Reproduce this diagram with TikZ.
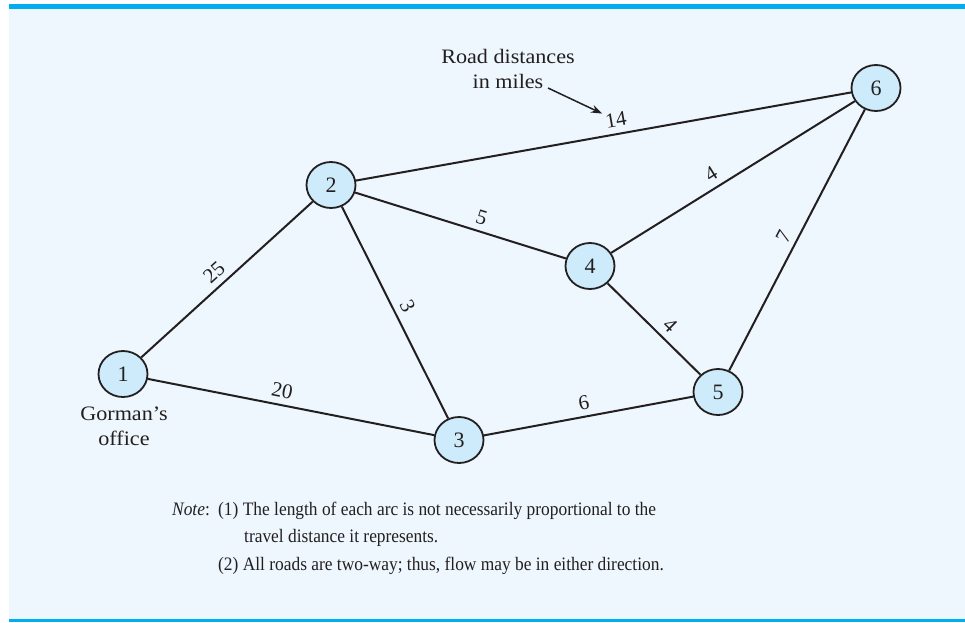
\documentclass[tikz,border=0pt]{standalone}
\usepackage{fontspec}
\setmainfont{Liberation Serif}
\newfontfamily\lblfont{Liberation Serif}[FakeStretch=1.08]
\newfontfamily\notefont{Liberation Serif}[FakeStretch=0.915]
\usetikzlibrary{arrows.meta,shapes.geometric}
\definecolor{bgblue}{HTML}{EDF7FD}
\definecolor{barblue}{HTML}{00AEEF}
\definecolor{nodeblue}{HTML}{CDEBFA}
\definecolor{ink}{HTML}{231F20}
\tikzset{
  town/.style={ellipse, draw=ink, fill=nodeblue, line width=1.8pt, minimum width=49pt, minimum height=46pt, inner sep=0pt, font=\fontsize{22}{22}\selectfont, text=ink},
  road/.style={draw=ink, line width=2pt},
  dist/.style={sloped, above=5pt, inner sep=1pt, font=\fontsize{21}{21}\selectfont, text=ink},
  caption/.style={font=\lblfont\fontsize{20.5}{25}\selectfont, text=ink, align=center, inner sep=0pt},
  notetxt/.style={font=\notefont\fontsize{19}{19}\selectfont, text=ink, inner sep=0pt, anchor=base west}
}
\begin{document}
\begin{tikzpicture}[x=1pt,y=-1pt]
\useasboundingbox (0,0) rectangle (965,622);
\fill[white] (0,0) rectangle (965,622);
\fill[bgblue] (9,9) rectangle (965,619);
\fill[barblue] (9,4) rectangle (965,9.3);
\fill[barblue] (9,619) rectangle (965,622);

\node[town] (n1) at (123,374) {1};
\node[town] (n2) at (331,185) {2};
\node[town] (n3) at (459,440) {3};
\node[town] (n4) at (590,266) {4};
\node[town] (n5) at (718,392) {5};
\node[town] (n6) at (876,88) {6};

\draw[road] (n1) -- node[dist, pos=0.48] {25} (n2);
\draw[road] (n2) -- node[dist, pos=0.50] {3} (n3);
\draw[road] (n2) -- node[dist, pos=0.58] {5} (n4);
\draw[road] (n4) -- node[dist, pos=0.44] {4} (n6);
\draw[road] (n5) -- node[dist, pos=0.49] {7} (n6);
\draw[road] (n4) -- node[dist, pos=0.57] {4} (n5);
\draw[road] (n1) -- node[dist, pos=0.46] {20} (n3);
\draw[road] (n3) -- node[dist, pos=0.49] {6} (n5);
\draw[road] (n2) -- node[dist, pos=0.53] (l14) {14} (n6);

\node[caption] (cap) at (508,69) {Road distances\\in miles};
\coordinate (arrS) at (548,88);
\draw[ink, line width=1.5pt, -{Stealth[length=11pt,width=8pt]}] (arrS) -- (l14.north west);

\node[caption] (office) at (124,426) {Gorman’s\\office};

\node[notetxt] (note) at (172,515) {\itshape Note\/\upshape:};
\node[notetxt] (l1) at (218,515) {(1) The length of each arc is not necessarily proportional to the};
\node[notetxt] (l2) at (244,542) {travel distance it represents.};
\node[notetxt] (l3) at (218,570) {(2) All roads are two-way; thus, flow may be in either direction.};
\end{tikzpicture}
\end{document}
